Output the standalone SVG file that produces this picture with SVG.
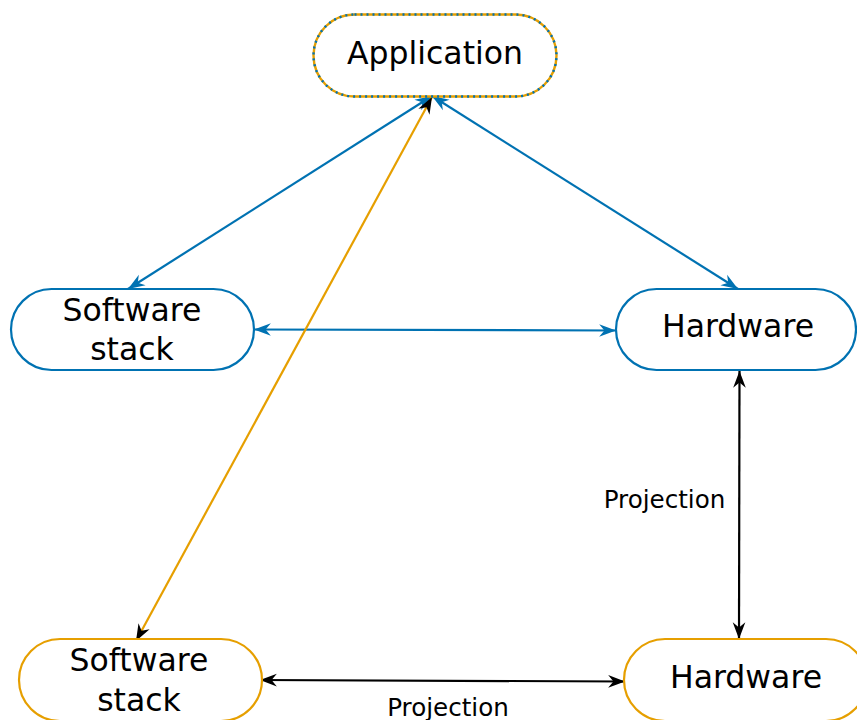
<svg xmlns="http://www.w3.org/2000/svg" width="857" height="720" viewBox="0 0 857 720">
<style>
  .lbl { font-family: "DejaVu Sans", sans-serif; font-size: 31.5px; fill: #000; text-anchor: middle; }
  .elbl { font-family: "DejaVu Sans", sans-serif; font-size: 24.6px; fill: #000; text-anchor: middle; }
  .blue { fill: #fff; stroke: #0072B2; stroke-width: 2.2; }
  .orange { fill: #fff; stroke: #E69F00; stroke-width: 2.2; }
  .eb { stroke: #0072B2; stroke-width: 2.2; fill: none; }
  .eo { stroke: #E69F00; stroke-width: 2.2; fill: none; }
  .ek { stroke: #000; stroke-width: 2.2; fill: none; }
</style>
<defs>
  <marker id="ab" markerUnits="userSpaceOnUse" markerWidth="20" markerHeight="20" viewBox="-17 -8 19 16" refX="0" refY="0" orient="auto-start-reverse">
    <path d="M0,0 L-16,-6 L-11,0 L-16,6 Z" fill="#0072B2"/>
  </marker>
  <marker id="ak" markerUnits="userSpaceOnUse" markerWidth="20" markerHeight="20" viewBox="-17 -8 19 16" refX="0" refY="0" orient="auto-start-reverse">
    <path d="M0,0 L-16,-6 L-11,0 L-16,6 Z" fill="#000"/>
  </marker>
</defs>
<rect width="857" height="720" fill="#fff"/>
<g id="connectors">
  <line class="eb" x1="432" y1="96" x2="128" y2="289" marker-start="url(#ab)" marker-end="url(#ab)"/>
  <line class="eb" x1="432" y1="96" x2="738" y2="289" marker-start="url(#ab)" marker-end="url(#ab)"/>
  <line class="eb" x1="254" y1="329.5" x2="616" y2="330.5" marker-start="url(#ab)" marker-end="url(#ab)"/>
  <line class="eo" x1="432" y1="97" x2="136" y2="641" marker-start="url(#ak)" marker-end="url(#ak)"/>
  <line class="ek" x1="739.5" y1="371" x2="739" y2="639" marker-start="url(#ak)" marker-end="url(#ak)"/>
  <line class="ek" x1="260" y1="680" x2="625" y2="681.5" marker-start="url(#ak)" marker-end="url(#ak)"/>
  <text class="elbl" x="664.5" y="508">Projection</text>
  <text class="elbl" x="448" y="716">Projection</text>
</g>
<g id="application">
  <rect x="313.5" y="14.5" width="243" height="82" rx="41" ry="41" fill="#fff" stroke="#E69F00" stroke-width="2.4"/>
  <rect x="313.5" y="14.5" width="243" height="82" rx="41" ry="41" fill="none" stroke="#0072B2" stroke-width="2.4" stroke-dasharray="2,4"/>
  <text class="lbl" x="435" y="64">Application</text>
</g>
<g id="software-stack-1">
  <rect class="blue" x="11" y="289" width="243" height="81" rx="40.5" ry="40.5"/>
  <text class="lbl" x="132" y="321">Software</text>
  <text class="lbl" x="132" y="360">stack</text>
</g>
<g id="hardware-1">
  <rect class="blue" x="616" y="289" width="240" height="81" rx="40.5" ry="40.5"/>
  <text class="lbl" x="738" y="337">Hardware</text>
</g>
<g id="software-stack-2">
  <rect class="orange" x="19" y="639" width="243" height="82" rx="41" ry="41"/>
  <text class="lbl" x="139" y="671">Software</text>
  <text class="lbl" x="139" y="711">stack</text>
</g>
<g id="hardware-2">
  <rect class="orange" x="624" y="639" width="243" height="82" rx="41" ry="41"/>
  <text class="lbl" x="746" y="688">Hardware</text>
</g>
</svg>
